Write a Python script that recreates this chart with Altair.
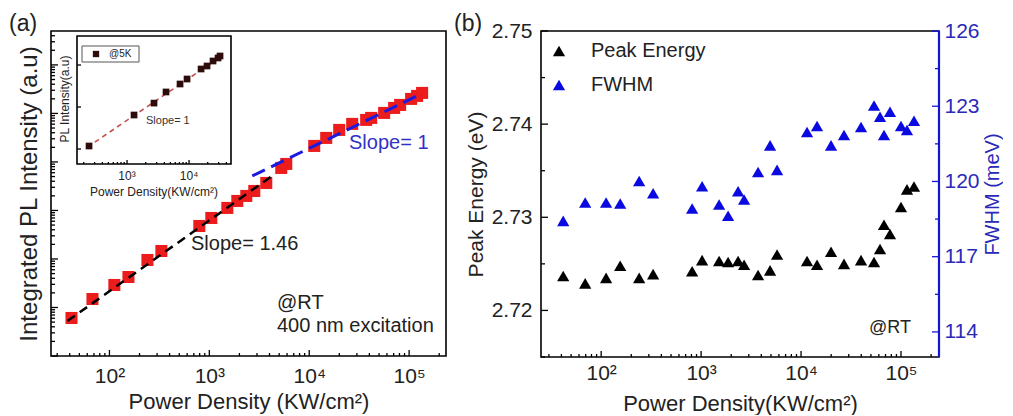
import math
import altair as alt
import pandas as pd

FONT = "Liberation Sans, Arial, Helvetica, sans-serif"
INK = "#222222"
RED = "#ec1c1c"
BLUE = "#0a0ae0"
BLUE_TXT = "#2a2ab8"

# ---------------- (a) integrated PL intensity, room temperature ----------------
power_a = [41.7, 67.6, 112, 155, 240, 331, 794, 1047, 1514, 1905, 2344, 2818, 3715, 5248,
           5888, 11220, 14790, 19950, 26920, 37150, 41690, 56230, 70800, 81280, 104700,
           120200, 134900]
pl_a = [6.08, 14.96, 29.1, 42.5, 95.3, 146, 479, 700, 1127, 1570, 1991, 2523, 3690, 7520,
        9100, 21380, 31260, 45700, 60800, 73500, 80800, 102400, 129800, 149700, 199100,
        229500, 264800]

# power-law fits: log10(I) = slope * log10(P) + offset
fit_low = {"slope": 1.46, "offset": -1.585, "p": [38, 4170]}
fit_high = {"slope": 1.0, "offset": 0.281, "p": [2690, 131800]}

# inset: 5 K data
power_5k = [244, 1297, 2723, 4256, 7161, 9290, 15630, 19500, 24380, 29370, 31620]
pl_5k = [1.18, 6.45, 12.4, 22.8, 35.3, 46.4, 80.3, 94.7, 124.5, 146.8, 163.8]
fit_5k = {"slope": 1.0, "offset": -2.316, "p": [229, 33100]}

# ---------------- (b) peak energy and FWHM ----------------
power_b = [41.7, 69.2, 112, 155, 240, 331, 813, 1023, 1514, 1862, 2344, 2692, 3715, 4898,
           5754, 11480, 14450, 19950, 26900, 39810, 53700, 61660, 67600, 77600, 100000,
           114800, 134900]
peak_eV = [2.7237, 2.7229, 2.7235, 2.7248, 2.7235, 2.7239, 2.7242, 2.7254, 2.7253, 2.7252,
           2.7253, 2.7249, 2.7238, 2.7243, 2.7260, 2.7253, 2.7249, 2.7263, 2.7250, 2.7254,
           2.7252, 2.7266, 2.7292, 2.7282, 2.7311, 2.7330, 2.7333]
fwhm_meV = [118.43, 119.16, 119.16, 119.12, 120.02, 119.53, 118.92, 119.81, 119.08, 118.63,
            119.61, 119.28, 120.38, 121.44, 120.46, 121.97, 122.21, 121.44, 121.85, 122.17,
            123.03, 122.58, 121.85, 122.78, 122.21, 122.05, 122.42]

# axis ticks and labels
x_decades = [100, 1000, 10000, 100000]
x_labels = ["10²", "10³", "10⁴", "10⁵"]
inset_decades = [1000, 10000]
inset_labels = ["10³", "10⁴"]
energy_ticks = [2.72, 2.73, 2.74, 2.75]
energy_minor = [2.715, 2.725, 2.735, 2.745]
fwhm_ticks = [114, 117, 120, 123, 126]
fwhm_minor = [115.5, 118.5, 121.5, 124.5]

A_W, A_H = 395, 325
B_W, B_H = 398, 326


def label_expr(values, labels):
    expr = f"'{labels[-1]}'"
    for v, lab in reversed(list(zip(values[:-1], labels[:-1]))):
        expr = f"datum.value < {v * 3} ? '{lab}' : " + expr
    return expr


def log_minor(lo, hi):
    out = []
    for k in range(-1, 8):
        for m in range(2, 10):
            v = m * 10 ** k
            if lo < v < hi:
                out.append(v)
    return out


def log_major(lo, hi):
    return [10 ** k for k in range(-1, 8) if lo <= 10 ** k <= hi]


def fit_frame(fit):
    return pd.DataFrame({
        "power": fit["p"],
        "pl": [10 ** (fit["slope"] * math.log10(p) + fit["offset"]) for p in fit["p"]],
    })


one = pd.DataFrame({"k": [0]})


def note(text, x, y, size=20, color=INK, align="left", angle=0):
    return alt.Chart(one).mark_text(
        text=text, font=FONT, fontSize=size, color=color, align=align,
        baseline="middle", angle=angle,
    ).encode(x=alt.value(x), y=alt.value(y))


def xticks(values, scale, y0, length, color="black"):
    return alt.Chart(pd.DataFrame({"v": values})).mark_rule(color=color, strokeWidth=1.3).encode(
        x=alt.X("v:Q", scale=scale, axis=None), y=alt.value(y0), y2=alt.value(y0 - length))


def yticks(values, scale, x0, length, color="black"):
    return alt.Chart(pd.DataFrame({"v": values})).mark_rule(color=color, strokeWidth=1.3).encode(
        y=alt.Y("v:Q", scale=scale, axis=None), x=alt.value(x0), x2=alt.value(x0 + length))


# ---------------- panel (a) ----------------
xa = alt.Scale(type="log", domain=[26, 234000], nice=False)
ya = alt.Scale(type="log", domain=[1, 5.0e6], nice=False)

pts_a = alt.Chart(pd.DataFrame({"power": power_a, "pl": pl_a})).mark_square(
    size=145, color=RED, opacity=1
).encode(
    x=alt.X("power:Q", scale=xa, axis=alt.Axis(
        values=x_decades, labelExpr=label_expr(x_decades, x_labels), ticks=False,
        domain=False, grid=False, labelFontSize=21, labelPadding=9, labelFont=FONT,
        labelColor=INK, title="Power Density (KW/cm²)", titleFont=FONT, titleFontSize=22,
        titleFontWeight="normal", titleColor=INK, titlePadding=5)),
    y=alt.Y("pl:Q", scale=ya, axis=alt.Axis(
        labels=False, ticks=False, domain=False, grid=False,
        title="Integrated PL Intensity (a.u)", titleFont=FONT, titleFontSize=24,
        titleFontWeight="normal", titleColor=INK, titlePadding=10)),
)

line_low = alt.Chart(fit_frame(fit_low)).mark_line(
    color="black", strokeDash=[9, 6], strokeWidth=2.5
).encode(x=alt.X("power:Q", scale=xa, axis=None), y=alt.Y("pl:Q", scale=ya, axis=None))
line_high = alt.Chart(fit_frame(fit_high)).mark_line(
    color="#1a1ae0", strokeDash=[14, 7], strokeWidth=3
).encode(x=alt.X("power:Q", scale=xa, axis=None), y=alt.Y("pl:Q", scale=ya, axis=None))

# inset, drawn on its own scales inside the upper-left corner
IX0, IX1, IY0, IY1 = 26, 180, 133, 5
xi = alt.Scale(type="log", domain=[156, 47500], range=[IX0, IX1], nice=False)
yi = alt.Scale(type="log", domain=[0.44, 490], range=[IY0, IY1], nice=False)

inset_frame = alt.Chart(one).mark_rect(fill="white", stroke="black", strokeWidth=1.6).encode(
    x=alt.value(IX0), x2=alt.value(IX1), y=alt.value(IY1), y2=alt.value(IY0))
inset_line = alt.Chart(fit_frame(fit_5k)).mark_line(
    color="#c85050", strokeDash=[5, 4], strokeWidth=1.6
).encode(x=alt.X("power:Q", scale=xi, axis=None), y=alt.Y("pl:Q", scale=yi, axis=None))
inset_pts = alt.Chart(pd.DataFrame({"power": power_5k, "pl": pl_5k})).mark_square(
    size=45, color="#2e0c0c", opacity=1
).encode(x=alt.X("power:Q", scale=xi, axis=None), y=alt.Y("pl:Q", scale=yi, axis=None))
inset_ticklabels = alt.Chart(pd.DataFrame({"v": inset_decades, "lab": inset_labels})).mark_text(
    font=FONT, fontSize=12, color=INK, baseline="middle"
).encode(x=alt.X("v:Q", scale=xi, axis=None), y=alt.value(IY0 + 12), text="lab:N")
inset_legend_box = alt.Chart(one).mark_rect(fill="white", stroke="#555555", strokeWidth=1).encode(
    x=alt.value(31), x2=alt.value(88), y=alt.value(15), y2=alt.value(31))
inset_legend_sym = alt.Chart(one).mark_square(size=40, color="#2e0c0c", opacity=1).encode(
    x=alt.value(45), y=alt.value(23))

# every layer carries explicit domains, so independent scales stay aligned
panel_a = alt.layer(
    pts_a, line_low, line_high,
    xticks(log_major(26, 234000), xa, A_H, 6),
    xticks(log_minor(26, 234000), xa, A_H, 3),
    yticks(log_major(1, 5e6), ya, 0, 7),
    yticks(log_minor(1, 5e6), ya, 0, 4),
    note("(a)", -42, -7, size=23),
    note("Slope= 1.46", 140, 213),
    note("Slope= 1", 298, 112, color="#3232c8"),
    note("@RT", 226, 272),
    note("400 nm excitation", 226, 295),
    inset_frame, inset_line, inset_pts,
    xticks(log_major(156, 47500), xi, IY0, 4),
    xticks(log_minor(156, 47500), xi, IY0, 2),
    yticks(log_major(0.44, 490), yi, IX0, 4),
    inset_ticklabels,
    inset_legend_box, inset_legend_sym,
    note("@5K", 58, 23, size=10),
    note("Slope= 1", 95, 90, size=11, color="#333333"),
    note("Power Density(KW/cm²)", 103, IY0 + 28, size=12, align="center"),
    note("PL Intensity(a.u)", 14, 68, size=12, align="center", angle=270),
).resolve_scale(x="independent", y="independent").properties(width=A_W, height=A_H)

# ---------------- panel (b) ----------------
xb = alt.Scale(type="log", domain=[25, 240000], nice=False)
yl = alt.Scale(domain=[2.715, 2.75], nice=False, zero=False)
yr = alt.Scale(domain=[113, 126], nice=False, zero=False)
series = alt.Scale(domain=["Peak Energy", "FWHM"], range=["black", BLUE])

legend = alt.Legend(
    orient="none", legendX=8, legendY=10, title=None, symbolType="triangle-up",
    symbolSize=150, symbolStrokeWidth=0, labelFont=FONT, labelFontSize=20, labelColor=INK,
    rowPadding=14, labelOffset=22, padding=0,
)

energy_pts = alt.Chart(pd.DataFrame({
    "power": power_b, "val": peak_eV, "series": "Peak Energy"})).mark_point(
    shape="triangle-up", filled=True, size=150, opacity=1
).encode(
    x=alt.X("power:Q", scale=xb, axis=alt.Axis(
        values=x_decades, labelExpr=label_expr(x_decades, x_labels), ticks=False,
        domain=False, grid=False, labelFontSize=21, labelPadding=5, labelFont=FONT,
        labelColor=INK, title="Power Density(KW/cm²)", titleFont=FONT, titleFontSize=22,
        titleFontWeight="normal", titleColor=INK, titlePadding=10)),
    y=alt.Y("val:Q", scale=yl, axis=alt.Axis(
        values=energy_ticks, format=".2f", ticks=False, domain=False, grid=False,
        labelFont=FONT, labelFontSize=21, labelColor=INK, labelPadding=9,
        title="Peak Energy (eV)", titleFont=FONT, titleFontSize=21,
        titleFontWeight="normal", titleColor=INK, titlePadding=5)),
    color=alt.Color("series:N", scale=series, legend=legend),
)

fwhm_pts = alt.Chart(pd.DataFrame({
    "power": power_b, "val": fwhm_meV, "series": "FWHM"})).mark_point(
    shape="triangle-up", filled=True, size=150, opacity=1
).encode(
    x=alt.X("power:Q", scale=xb, axis=None),
    y=alt.Y("val:Q", scale=yr, axis=alt.Axis(
        orient="right", values=fwhm_ticks, ticks=False, domain=False, grid=False,
        labelFont=FONT, labelFontSize=21, labelColor=BLUE_TXT, labelPadding=5,
        title="FWHM (meV)", titleFont=FONT, titleFontSize=20, titleFontWeight="normal",
        titleColor=BLUE_TXT, titlePadding=3, titleAngle=270, titleBaseline="top")),
    color=alt.Color("series:N", scale=series, legend=legend),
)

blue_edge = alt.Chart(one).mark_rule(color="#1414d8", strokeWidth=2.2).encode(
    x=alt.value(B_W), y=alt.value(0), y2=alt.value(B_H))

panel_b = alt.layer(
    energy_pts,
    xticks(log_major(25, 240000), xb, B_H, 6),
    xticks(log_minor(25, 240000), xb, B_H, 3),
    yticks(energy_ticks, yl, 0, 7),
    yticks(energy_minor, yl, 0, 4),
    note("(b)", -87, -7, size=23),
    note("@RT", 370, 297, size=18, align="right"),
    fwhm_pts,
    yticks(fwhm_ticks, yr, B_W - 7, 7, color="#1414d8"),
    yticks(fwhm_minor, yr, B_W - 4, 4, color="#1414d8"),
    blue_edge,
).resolve_scale(x="independent", y="independent").properties(width=B_W, height=B_H)

chart = alt.hconcat(panel_a, panel_b, spacing=6).resolve_scale(
    color="independent"
).properties(
    padding={"left": 8, "top": 12, "right": 0, "bottom": 0},
    background="white",
).configure_view(stroke="black", strokeWidth=1.6)

chart.save("out.html", embed_options={"renderer": "svg", "actions": False})
